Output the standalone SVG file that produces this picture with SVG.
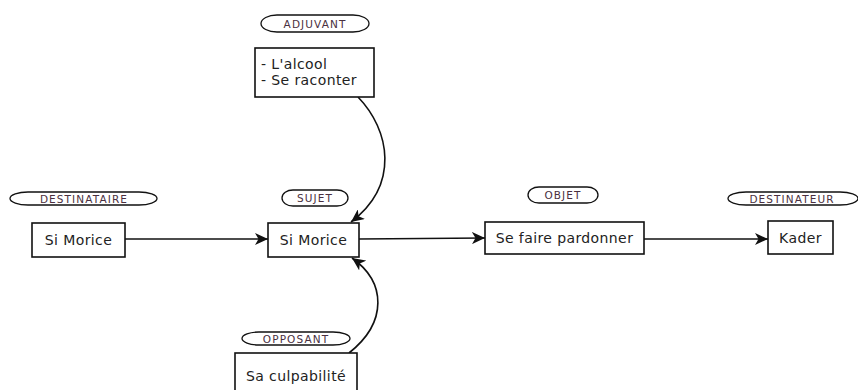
<svg xmlns="http://www.w3.org/2000/svg" width="858" height="390" viewBox="0 0 858 390">
  <style>
    .box { fill: #ffffff; stroke: #111111; stroke-width: 1.6; }
    .pill { fill: #ffffff; stroke: #111111; stroke-width: 1.3; }
    .role { font-family: "DejaVu Sans", Verdana, sans-serif; font-size: 10.5px; letter-spacing: 1.1px; fill: #4a3040; text-anchor: middle; }
    .label { font-family: "DejaVu Sans", Verdana, sans-serif; font-size: 14px; letter-spacing: 0.4px; fill: #222222; }
    .mid { text-anchor: middle; }
    .link { fill: none; stroke: #111111; stroke-width: 1.6; }
  </style>
  <defs>
    <marker id="arrow" markerUnits="userSpaceOnUse" markerWidth="14" markerHeight="12" refX="13" refY="6" orient="auto">
      <path d="M0,0 L13,6 L0,12 L3.5,6 z" fill="#111111"/>
    </marker>
  </defs>
  <rect width="858" height="390" fill="#ffffff"/>

  <!-- connectors -->
  <g id="connectors">
    <path class="link" d="M125,239 H268" marker-end="url(#arrow)"/>
    <path class="link" d="M359,239 L485,238" marker-end="url(#arrow)"/>
    <path class="link" d="M644,239 H768" marker-end="url(#arrow)"/>
    <path class="link" d="M358,97 C390,130 400,185 351,222" marker-end="url(#arrow)"/>
    <path class="link" d="M349,353 C388,322 386,282 352,258" marker-end="url(#arrow)"/>
  </g>

  <!-- adjuvant -->
  <g id="adjuvant">
    <rect class="pill" x="261" y="15" width="108" height="17" rx="16" ry="8.5"/>
    <text class="role" x="315" y="27.5">ADJUVANT</text>
    <rect class="box" x="255" y="48" width="119" height="49"/>
    <text class="label" x="261" y="69">- L'alcool</text>
    <text class="label" x="261" y="85">- Se raconter</text>
  </g>

  <!-- destinataire -->
  <g id="destinataire">
    <rect class="pill" x="10" y="192" width="147" height="13" rx="18" ry="6.5"/>
    <text class="role" x="84" y="202.5">DESTINATAIRE</text>
    <rect class="box" x="32" y="223" width="93" height="34"/>
    <text class="label mid" x="78.5" y="245">Si Morice</text>
  </g>

  <!-- sujet -->
  <g id="sujet">
    <rect class="pill" x="282" y="190" width="66" height="16" rx="11" ry="8"/>
    <text class="role" x="315" y="202">SUJET</text>
    <rect class="box" x="268" y="223" width="91" height="34"/>
    <text class="label mid" x="313.5" y="245">Si Morice</text>
  </g>

  <!-- objet -->
  <g id="objet">
    <rect class="pill" x="528" y="187" width="70" height="16" rx="11" ry="8"/>
    <text class="role" x="563" y="199">OBJET</text>
    <rect class="box" x="485" y="222" width="159" height="32"/>
    <text class="label mid" x="564.5" y="243">Se faire pardonner</text>
  </g>

  <!-- destinateur -->
  <g id="destinateur">
    <rect class="pill" x="728" y="192" width="130" height="13" rx="18" ry="6.5"/>
    <text class="role" x="792" y="202.5">DESTINATEUR</text>
    <rect class="box" x="768" y="221" width="65" height="33"/>
    <text class="label mid" x="800.5" y="243">Kader</text>
  </g>

  <!-- opposant -->
  <g id="opposant">
    <rect class="pill" x="242" y="332" width="108" height="13" rx="17" ry="6.5"/>
    <text class="role" x="296" y="342.5">OPPOSANT</text>
    <rect class="box" x="235" y="353" width="122" height="45"/>
    <text class="label mid" x="296" y="381">Sa culpabilité</text>
  </g>
</svg>
